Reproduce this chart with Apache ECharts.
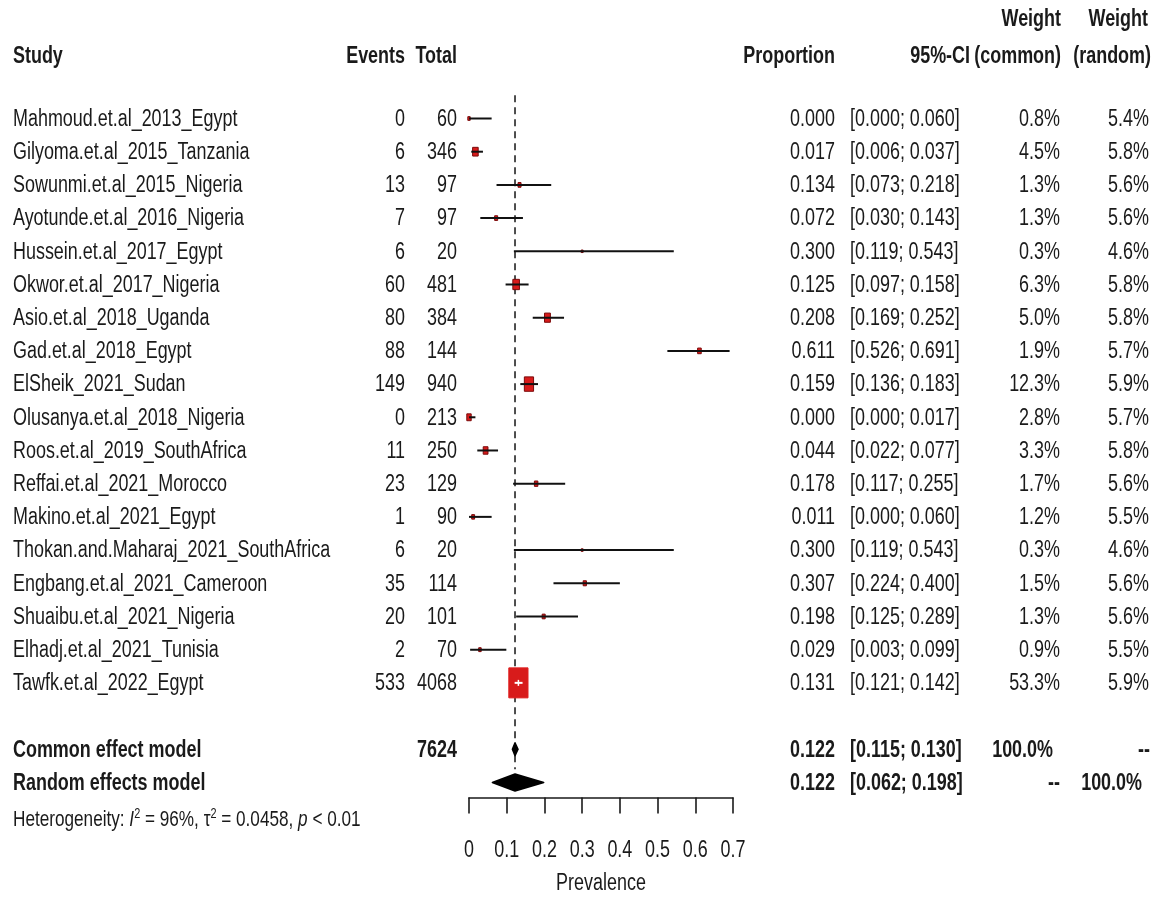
<!DOCTYPE html>
<html>
<head>
<meta charset="utf-8">
<title>Forest plot – Prevalence</title>
<script src="https://cdn.jsdelivr.net/npm/echarts@6/dist/echarts.min.js"></script>
<style>
  html, body { margin: 0; padding: 0; background: #ffffff; }
  #chart { width: 1167px; height: 897px; }
</style>
</head>
<body>
<div id="chart"></div>
<script>
// ---- Study data ----
const studies = [
  "Mahmoud.et.al_2013_Egypt",
  "Gilyoma.et.al_2015_Tanzania",
  "Sowunmi.et.al_2015_Nigeria",
  "Ayotunde.et.al_2016_Nigeria",
  "Hussein.et.al_2017_Egypt",
  "Okwor.et.al_2017_Nigeria",
  "Asio.et.al_2018_Uganda",
  "Gad.et.al_2018_Egypt",
  "ElSheik_2021_Sudan",
  "Olusanya.et.al_2018_Nigeria",
  "Roos.et.al_2019_SouthAfrica",
  "Reffai.et.al_2021_Morocco",
  "Makino.et.al_2021_Egypt",
  "Thokan.and.Maharaj_2021_SouthAfrica",
  "Engbang.et.al_2021_Cameroon",
  "Shuaibu.et.al_2021_Nigeria",
  "Elhadj.et.al_2021_Tunisia",
  "Tawfk.et.al_2022_Egypt"
];
const events       = [0, 6, 13, 7, 6, 60, 80, 88, 149, 0, 11, 23, 1, 6, 35, 20, 2, 533];
const totals       = [60, 346, 97, 97, 20, 481, 384, 144, 940, 213, 250, 129, 90, 20, 114, 101, 70, 4068];
const proportion   = [0.000, 0.017, 0.134, 0.072, 0.300, 0.125, 0.208, 0.611, 0.159, 0.000, 0.044, 0.178, 0.011, 0.300, 0.307, 0.198, 0.029, 0.131];
const ciLower      = [0.000, 0.006, 0.073, 0.030, 0.119, 0.097, 0.169, 0.526, 0.136, 0.000, 0.022, 0.117, 0.000, 0.119, 0.224, 0.125, 0.003, 0.121];
const ciUpper      = [0.060, 0.037, 0.218, 0.143, 0.543, 0.158, 0.252, 0.691, 0.183, 0.017, 0.077, 0.255, 0.060, 0.543, 0.400, 0.289, 0.099, 0.142];
const weightCommon = [0.8, 4.5, 1.3, 1.3, 0.3, 6.3, 5.0, 1.9, 12.3, 2.8, 3.3, 1.7, 1.2, 0.3, 1.5, 1.3, 0.9, 53.3];
const weightRandom = [5.4, 5.8, 5.6, 5.6, 4.6, 5.8, 5.8, 5.7, 5.9, 5.7, 5.8, 5.6, 5.5, 4.6, 5.6, 5.6, 5.5, 5.9];

// ---- Pooled estimates ----
const summaryLabels = ["Common effect model", "Random effects model"];
const summaryTotal  = [7624, null];
const summaryEst    = [0.122, 0.122];
const summaryLower  = [0.115, 0.062];
const summaryUpper  = [0.130, 0.198];
const summaryWCommon = ["100.0%", "--"];
const summaryWRandom = ["--", "100.0%"];
const heterogeneity = { i2: "96%", tau2: "0.0458", p: "< 0.01" };

// ---- Axis ----
const xTicks      = [0, 0.1, 0.2, 0.3, 0.4, 0.5, 0.6, 0.7];
const xTickLabels = ["0", "0.1", "0.2", "0.3", "0.4", "0.5", "0.6", "0.7"];
const xAxisTitle  = "Prevalence";

// ---- Layout / style ----
const FONT = "'Liberation Sans', Arial, sans-serif";
const FS = 23;          // body text size
const SX = 0.78;        // horizontal condensing of text
const INK = "#1a1a1a";
const SUMMARY_ROW = [19, 20];   // rows below the studies (one blank row between)
const Y_MIN = -1, Y_MAX = 20.45;
const COL = { study: 13, events: 405, total: 457, prop: 835, ci: 850, wCommon: 1060, wRandom: 1149 };
const SQUARE_MAX_H = 30, SQUARE_ASPECT = 0.64;
const maxWeight = Math.max(...weightCommon);

function txt(x, y, text, align, bold, size) {
  return {
    type: 'text', x: x, y: y, scaleX: SX,
    style: {
      text: text, align: align || 'left', verticalAlign: 'middle',
      fontFamily: FONT, fontSize: size || FS, fontWeight: bold ? 'bold' : 'normal', fill: INK
    }
  };
}
const fmt3 = v => v.toFixed(3);
const ciText = (lo, hi) => "[" + fmt3(lo) + "; " + fmt3(hi) + "]";

const chart = echarts.init(document.getElementById('chart'), null, { renderer: 'canvas' });

const option = {
  backgroundColor: '#ffffff',
  animation: false,
  grid: { left: 469, width: 264, top: 85.3, bottom: 99.6, containLabel: false },
  xAxis: {
    type: 'value', min: 0, max: 0.7, interval: 0.1, position: 'bottom',
    axisLine: { show: true, onZero: false, lineStyle: { color: INK, width: 1.6 } },
    axisTick: { show: true, length: 16, inside: false, lineStyle: { color: INK, width: 1.6 } },
    axisLabel: { show: false },
    splitLine: { show: false }
  },
  yAxis: { type: 'value', inverse: true, min: Y_MIN, max: Y_MAX, show: false },
  series: [
    // reference line at the common-effect estimate
    {
      type: 'line', symbol: 'none', silent: true, z: 1,
      data: [[summaryEst[0], -0.7], [summaryEst[0], 19.6]],
      lineStyle: { color: '#222', width: 1.6, type: [7, 5] }
    },
    // study squares and confidence intervals
    {
      type: 'custom', z: 3,
      data: studies.map((s, i) => [proportion[i], i]),
      renderItem: function (params, api) {
        const i = params.dataIndex;
        const c = api.coord([proportion[i], i]);
        const lo = api.coord([ciLower[i], i]);
        const hi = api.coord([ciUpper[i], i]);
        const h = Math.max(2.5, SQUARE_MAX_H * Math.sqrt(weightCommon[i] / maxWeight));
        const w = Math.max(2, h * SQUARE_ASPECT);
        const inside = lo[0] >= c[0] - w / 2 && hi[0] <= c[0] + w / 2;
        const lineCol = inside ? '#ffffff' : '#111111';
        const children = [
          { type: 'rect', shape: { x: c[0] - w / 2, y: c[1] - h / 2, width: w, height: h },
            style: { fill: '#d81b1b', stroke: weightCommon[i] > 20 ? '#e02020' : '#7a0a0a', lineWidth: 1 } },
          { type: 'line', shape: { x1: lo[0], y1: c[1], x2: hi[0], y2: c[1] },
            style: { stroke: lineCol, lineWidth: 2 } }
        ];
        if (inside) {
          children.push({ type: 'line', shape: { x1: c[0], y1: c[1] - 3, x2: c[0], y2: c[1] + 3 },
            style: { stroke: '#ffffff', lineWidth: 1.5 } });
        }
        return { type: 'group', children: children };
      }
    },
    // pooled diamonds
    {
      type: 'custom', z: 3,
      data: summaryEst.map((v, k) => [v, SUMMARY_ROW[k]]),
      renderItem: function (params, api) {
        const k = params.dataIndex;
        const row = SUMMARY_ROW[k];
        const c = api.coord([summaryEst[k], row]);
        const lo = api.coord([summaryLower[k], row]);
        const hi = api.coord([summaryUpper[k], row]);
        const hh = k === 0 ? 6.5 : 8.5;
        return {
          type: 'polygon',
          shape: { points: [[lo[0], c[1]], [c[0], c[1] - hh], [hi[0], c[1]], [c[0], c[1] + hh]] },
          style: { fill: '#000000', stroke: '#000000', lineWidth: 1.5, lineJoin: 'round' }
        };
      }
    },
    // study table text
    {
      type: 'custom', z: 5, silent: true,
      data: studies.map((s, i) => [0, i]),
      renderItem: function (params, api) {
        const i = params.dataIndex;
        const y = api.coord([0, i])[1] + 1;
        return {
          type: 'group',
          children: [
            txt(COL.study, y, studies[i], 'left'),
            txt(COL.events, y, String(events[i]), 'right'),
            txt(COL.total, y, String(totals[i]), 'right'),
            txt(COL.prop, y, fmt3(proportion[i]), 'right'),
            txt(COL.ci, y, ciText(ciLower[i], ciUpper[i]), 'left'),
            txt(COL.wCommon, y, weightCommon[i].toFixed(1) + "%", 'right'),
            txt(COL.wRandom, y, weightRandom[i].toFixed(1) + "%", 'right')
          ]
        };
      }
    },
    // pooled rows text
    {
      type: 'custom', z: 5, silent: true,
      data: summaryEst.map((v, k) => [0, SUMMARY_ROW[k]]),
      renderItem: function (params, api) {
        const k = params.dataIndex;
        const y = api.coord([0, SUMMARY_ROW[k]])[1] + 1;
        const ch = [
          txt(COL.study, y, summaryLabels[k], 'left', true),
          txt(COL.prop, y, fmt3(summaryEst[k]), 'right', true),
          txt(COL.ci, y, ciText(summaryLower[k], summaryUpper[k]), 'left', true),
          txt(summaryWCommon[k] === "--" ? COL.wCommon : COL.wCommon - 7, y, summaryWCommon[k], 'right', true),
          txt(summaryWRandom[k] === "--" ? COL.wRandom + 1 : COL.wRandom - 7, y, summaryWRandom[k], 'right', true)
        ];
        if (summaryTotal[k] !== null) ch.push(txt(COL.total, y, String(summaryTotal[k]), 'right', true));
        return { type: 'group', children: ch };
      }
    },
    // x-axis tick labels (condensed to match the table font)
    {
      type: 'custom', z: 5, silent: true,
      data: xTicks.map(v => [v, Y_MAX]),
      renderItem: function (params, api) {
        const p = api.coord([xTicks[params.dataIndex], Y_MAX]);
        return txt(p[0], p[1] + 53, xTickLabels[params.dataIndex], 'center');
      }
    }
  ],
  graphic: [
    // column headers
    txt(13, 57, "Study", 'left', true),
    txt(COL.events, 57, "Events", 'right', true),
    txt(COL.total, 57, "Total", 'right', true),
    txt(COL.prop, 57, "Proportion", 'right', true),
    txt(970, 57, "95%-CI", 'right', true),
    txt(1061, 20, "Weight", 'right', true),
    txt(1061, 57, "(common)", 'right', true),
    txt(1148, 20, "Weight", 'right', true),
    txt(1151, 57, "(random)", 'right', true),
    // axis title
    txt(601, 884, xAxisTitle, 'center'),
    // heterogeneity statistics
    {
      type: 'text', x: 13, y: 820, scaleX: SX,
      style: {
        text: "Heterogeneity: {i|I}{sup|2} = " + heterogeneity.i2 + ", τ{sup|2} = " + heterogeneity.tau2 + ", {i|p} " + heterogeneity.p,
        verticalAlign: 'middle', align: 'left',
        fontFamily: FONT, fontSize: 22, fill: INK, lineHeight: 26,
        rich: {
          i: { fontStyle: 'italic', fontFamily: FONT, fontSize: 22, fill: INK, lineHeight: 26 },
          sup: { fontSize: 14, fontFamily: FONT, fill: INK, verticalAlign: 'top', lineHeight: 26 }
        }
      }
    }
  ]
};

chart.setOption(option);
</script>
</body>
</html>
